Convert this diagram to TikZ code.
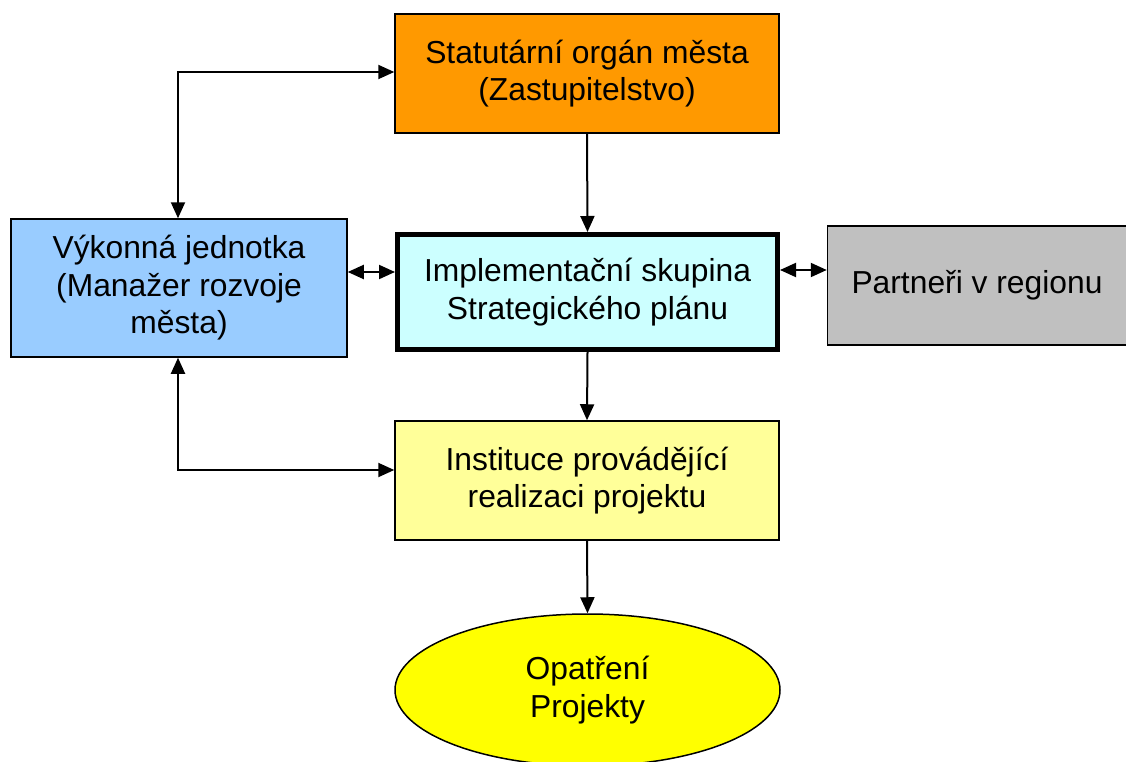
\documentclass[tikz,border=0pt]{standalone}
\usepackage{fontspec}
\setmainfont{Liberation Sans}
\usetikzlibrary{arrows.meta,shapes.geometric}
\definecolor{orgorange}{HTML}{FF9900}
\definecolor{orgblue}{HTML}{99CCFF}
\definecolor{orgcyan}{HTML}{CCFFFF}
\definecolor{orggray}{HTML}{C0C0C0}
\definecolor{orglyellow}{HTML}{FFFF99}
\definecolor{orgyellow}{HTML}{FFFF00}
\tikzset{
  boxnode/.style={draw=black, line width=1.5pt, align=center, inner sep=0pt,
    font=\fontsize{31.8}{37.5}\selectfont},
  conn/.style={line width=2pt, arrows={-Triangle[length=16pt,width=14pt]}},
  dconn/.style={line width=2pt, arrows={Triangle[length=16pt,width=14pt]-Triangle[length=16pt,width=14pt]}},
}
\begin{document}
\begin{tikzpicture}[x=1pt,y=-1pt]
\useasboundingbox (0,0) rectangle (1126,762);
\node[boxnode, fill=orgorange, minimum width=384pt, minimum height=119pt] (top) at (587,73.5) {Statutární orgán města\\(Zastupitelstvo)};
\node[boxnode, fill=orgblue, minimum width=336pt, minimum height=138pt] (left) at (179,288) {Výkonná jednotka\\(Manažer rozvoje\\města)};
\node[boxnode, fill=orgcyan, line width=5pt, minimum width=380pt, minimum height=115pt] (center) at (587.5,292) {Implementační skupina\\Strategického plánu};
\node[boxnode, fill=orggray, minimum width=299pt, minimum height=119pt] (right) at (977,285.5) {Partneři v regionu};
\node[boxnode, fill=orglyellow, minimum width=384pt, minimum height=119pt] (inst) at (587,480.5) {Instituce provádějící\\realizaci projektu};
\node[boxnode, ellipse, fill=orgyellow, minimum width=385pt, minimum height=152pt] (ell) at (587.5,690) {Opatření\\Projekty};
\coordinate (c1) at (178,72);
\coordinate (c2) at (178,470);
\coordinate (d1) at (371,272);
\coordinate (d2) at (803,270);
\draw[dconn] (c1 -| top.west) -- (c1) -- (c1 |- left.north);
\draw[conn] (top.south) -- (center.north);
\draw[dconn] (d1 -| left.east) -- (d1 -| center.west);
\draw[dconn] (d2 -| center.east) -- (d2 -| right.west);
\draw[conn] (center.south) -- (inst.north);
\draw[dconn] (c2 |- left.south) -- (c2) -- (c2 -| inst.west);
\draw[conn] (inst.south) -- (ell.north);
\end{tikzpicture}
\end{document}
